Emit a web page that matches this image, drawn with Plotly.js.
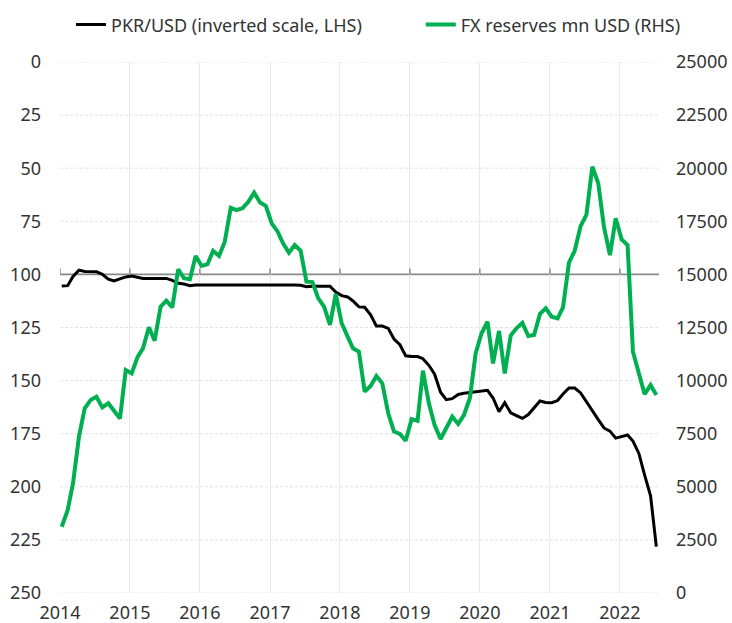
<!DOCTYPE html>
<html>
<head>
<meta charset="utf-8">
<script src="https://cdn.plot.ly/plotly-3.0.1.min.js"></script>
<style>html,body{margin:0;padding:0;background:#fff;}#chart{width:732px;height:623px;}</style>
</head>
<body>
<div id="chart"></div>
<script>
// Monthly observations, Jan 2014 .. Jul 2022
const startYear = 2014, startMonth = 1, nMonths = 103;

const pkrUsd = [
  105.5,105.3,101.0,98.0,98.6,98.7,98.7,100.0,102.2,103.1,102.2,101.2,
  100.8,101.3,101.9,101.9,101.9,101.9,101.9,102.8,104.2,104.5,105.3,105.0,
  105.0,104.8,104.9,104.8,104.7,104.8,104.8,104.9,104.9,104.9,104.8,104.8,
  104.8,104.8,104.8,104.9,105.0,105.1,105.8,105.6,105.6,105.6,105.6,108.3,
  110.0,110.6,112.5,115.3,115.5,119.0,124.3,124.3,125.4,130.4,133.1,138.3,
  138.7,138.7,139.7,142.8,147.0,155.5,159.0,158.5,156.5,156.0,155.7,155.4,
  155.1,154.6,158.2,164.6,160.4,165.2,166.5,167.8,166.0,163.0,159.6,160.3,
  160.4,159.4,156.3,153.5,153.5,155.8,160.0,164.7,168.4,172.3,173.8,177.1,
  176.5,175.6,178.5,184.3,194.5,204.2,228.2
];

const fxReserves = [
  3120,3900,5170,7360,8700,9090,9240,8740,8930,8580,8220,10500,
  10340,11120,11520,12510,11880,13480,13760,13450,15240,14820,14770,15870,
  15400,15480,16110,15870,16540,18140,18030,18110,18420,18850,18380,18230,
  17400,17010,16460,16020,16380,16110,14660,14640,13870,13480,12620,14080,
  12700,12070,11520,11360,9480,9750,10220,9870,8460,7600,7490,7170,
  8180,8110,10470,8930,7910,7250,7750,8300,7960,8380,9170,11280,
  12230,12770,10810,12340,10340,12120,12460,12720,12100,12150,13140,13400,
  13010,12930,13450,15550,16110,17280,17800,20070,19290,17220,15910,17640,
  16650,16380,11360,10370,9360,9790,9320
];

const yearTicks = [2014,2015,2016,2017,2018,2019,2020,2021,2022];
const lhsTicks = [0,25,50,75,100,125,150,175,200,225,250];
const rhsTicks = [0,2500,5000,7500,10000,12500,15000,17500,20000,22500,25000];
const baseLevel = 100; // the x axis crosses the LHS scale here

const names = ['PKR/USD (inverted scale, LHS)', 'FX reserves mn USD (RHS)'];

const dates = [];
for (let i = 0; i < nMonths; i++) {
  const y = startYear + Math.floor((startMonth - 1 + i) / 12);
  const m = ((startMonth - 1 + i) % 12) + 1;
  dates.push(y + '-' + String(m).padStart(2, '0') + '-10');
}

const FONT = 'Noto Sans, Lato, sans-serif';
const TXT = '#333333';

const traces = [
  {x: dates, y: pkrUsd, name: names[0], type: 'scatter', mode: 'lines',
   line: {color: '#000000', width: 3}, yaxis: 'y', legend: 'legend'},
  {x: dates, y: fxReserves, name: names[1], type: 'scatter', mode: 'lines',
   line: {color: '#00AF50', width: 4}, yaxis: 'y2', legend: 'legend2'}
];

const shapes = [];
// dashed horizontal gridlines at the LHS ticks (except where the axis line sits)
lhsTicks.forEach(function (v) {
  if (v === baseLevel) return;
  shapes.push({
    type: 'line', xref: 'paper', yref: 'y', x0: 0, x1: 1, y0: v, y1: v,
    line: {color: '#e3e3e3', width: 1, dash: '3px,2px'}, layer: 'below'
  });
});
// the x-axis line crossing at the base level, with upward ticks at each year
shapes.push({
  type: 'line', xref: 'paper', yref: 'y', x0: 0, x1: 1, y0: baseLevel, y1: baseLevel,
  line: {color: '#8a8a8a', width: 1.6}, layer: 'between'
});
yearTicks.forEach(function (yr) {
  shapes.push({
    type: 'line', xref: 'x', yref: 'y', ysizemode: 'pixel', yanchor: baseLevel,
    x0: yr + '-01-01', x1: yr + '-01-01', y0: 0, y1: 6,
    line: {color: '#8a8a8a', width: 1.5}, layer: 'between'
  });
});

const legendCommon = {
  orientation: 'h', yanchor: 'middle', xanchor: 'left', y: 1.07,
  font: {family: FONT, size: 18, color: TXT}, bgcolor: 'rgba(0,0,0,0)',
  itemwidth: 30
};

const layout = {
  width: 732, height: 623,
  margin: {l: 60, r: 73, t: 62, b: 30, autoexpand: false},
  paper_bgcolor: '#ffffff', plot_bgcolor: '#ffffff',
  font: {family: FONT, size: 18, color: TXT},
  showlegend: true,
  legend: Object.assign({}, legendCommon, {x: 0.0184}),
  legend2: Object.assign({}, legendCommon, {x: 0.6023}),
  xaxis: {
    type: 'date', range: ['2014-01-01', '2022-07-24'],
    tickvals: yearTicks.map(function (y) { return y + '-01-01'; }),
    ticktext: yearTicks.map(String),
    showgrid: true, gridcolor: '#e8e8e8', gridwidth: 1,
    zeroline: false, showline: false, ticks: '', ticklabelstandoff: 7,
    tickfont: {family: FONT, size: 18, color: TXT}
  },
  yaxis: {
    range: [250, 0], tickvals: lhsTicks, ticktext: lhsTicks.map(String),
    showgrid: false,
    zeroline: false, showline: false, ticks: '', ticklabelstandoff: 18,
    tickfont: {family: FONT, size: 18, color: TXT}
  },
  yaxis2: {
    range: [0, 25000], tickvals: rhsTicks, ticktext: rhsTicks.map(String),
    overlaying: 'y', side: 'right', showgrid: false,
    zeroline: false, showline: false, ticks: '', ticklabelstandoff: 16,
    tickfont: {family: FONT, size: 18, color: TXT}
  },
  shapes: shapes
};

Plotly.newPlot('chart', traces, layout, {displayModeBar: false, staticPlot: true});
</script>
</body>
</html>
